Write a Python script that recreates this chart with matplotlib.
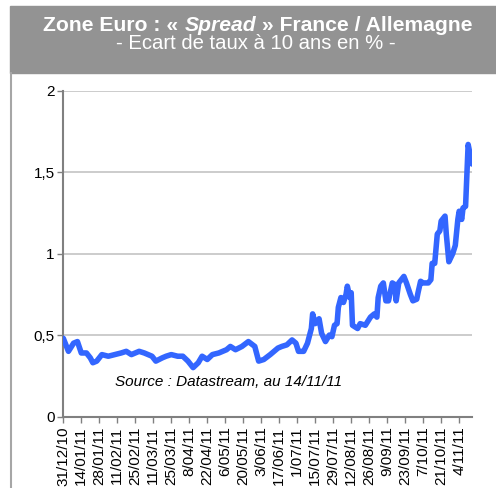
import matplotlib
matplotlib.use("Agg")
import matplotlib.pyplot as plt
import pandas as pd

plt.rcParams["font.family"] = ["Liberation Sans", "DejaVu Sans"]

START = pd.Timestamp("2010-12-31")
END = pd.Timestamp("2011-11-14")

# days after 31/12/10 and spread (points of %)
day_offsets = [
    0, 4, 8, 11, 14, 18, 21, 23, 26, 30, 35, 40, 45, 49, 53, 59, 63, 69, 72, 77,
    80, 84, 89, 93, 97, 101, 105, 108, 112, 116, 121, 127, 130, 134, 139, 144,
    149, 152, 156, 161, 167, 170, 174, 178, 181, 183, 187, 190, 193, 194, 196,
    199, 201, 204, 207, 209, 211, 213, 214, 216, 218, 220, 221, 223, 224, 225,
    229, 231, 235, 239, 242, 244, 245, 247, 249, 251, 253, 256, 258, 259, 261,
    265, 267, 270, 272, 275, 276, 278, 280, 284, 286, 287, 289, 291, 293, 294,
    297, 298, 300, 303, 305, 307, 308, 310, 311, 313, 315, 318,
]
spread = [
    0.48, 0.40, 0.45, 0.46, 0.39, 0.39, 0.36, 0.33, 0.34, 0.38, 0.37, 0.38,
    0.39, 0.40, 0.38, 0.40, 0.39, 0.37, 0.34, 0.36, 0.37, 0.38, 0.37, 0.37,
    0.34, 0.30, 0.33, 0.37, 0.35, 0.38, 0.39, 0.41, 0.43, 0.41, 0.43, 0.46,
    0.43, 0.34, 0.35, 0.38, 0.42, 0.43, 0.44, 0.47, 0.45, 0.40, 0.40, 0.45,
    0.54, 0.63, 0.57, 0.60, 0.51, 0.46, 0.50, 0.49, 0.56, 0.57, 0.67, 0.73,
    0.70, 0.75, 0.80, 0.73, 0.76, 0.56, 0.54, 0.57, 0.56, 0.61, 0.63, 0.61,
    0.73, 0.80, 0.82, 0.71, 0.71, 0.82, 0.81, 0.71, 0.82, 0.86, 0.82, 0.75,
    0.71, 0.72, 0.76, 0.83, 0.82, 0.82, 0.84, 0.94, 0.94, 1.12, 1.14, 1.20,
    1.23, 1.12, 0.95, 1.00, 1.05, 1.21, 1.26, 1.21, 1.28, 1.29, 1.67, 1.55,
]

y_ticks = [0, 0.5, 1, 1.5, 2]
y_labels = ["0", "0,5", "1", "1,5", "2"]

# title pieces: (text, style)
title_parts = [("Zone Euro : « ", "normal"), ("Spread", "italic"),
               (" » France / Allemagne", "normal")]
subtitle = "- Ecart de taux à 10 ans en % -"
source = "Source : Datastream, au 14/11/11"

dates = [START + pd.Timedelta(days=d) for d in day_offsets]
tick_dates = pd.date_range(START, END, freq="14D")

W, H = 496, 488
AX_L, AX_R, AX_T, AX_B = 63.3, 472, 90.7, 416.5  # axes box in pixels

fig = plt.figure(figsize=(W / 100, H / 100), dpi=100)

# grey header band and left frame line
fig.patches.append(plt.Rectangle((10 / W, 1 - 73 / H), 1, 67 / H,
                                 transform=fig.transFigure, color="#939393", zorder=0))
fig.lines.append(plt.Line2D([11 / W, 11 / W], [0, 1 - 73 / H],
                            transform=fig.transFigure, color="#a6a6a6", lw=1.5))

# title built from pieces so "Spread" can be bold italic
renderer = fig.canvas.get_renderer()
texts = []
for s, style in title_parts:
    texts.append(fig.text(0, 1 - 31 / H, s, color="white", fontsize=15.2,
                          fontweight="bold", style=style, va="baseline"))
widths = [t.get_window_extent(renderer).width for t in texts]
x = 258 - sum(widths) / 2
for t, w in zip(texts, widths):
    t.set_x(x / W)
    x += w

fig.text(256 / W, 1 - 49 / H, subtitle, color="white", fontsize=14.6,
         ha="center", va="baseline")

ax = fig.add_axes([AX_L / W, 1 - AX_B / H, (AX_R - AX_L) / W, (AX_B - AX_T) / H])
ax.plot(dates, spread, color="#3366ff", lw=4, solid_joinstyle="round",
        solid_capstyle="round", zorder=3)

ax.set_ylim(0, 2)
ax.set_xlim(START, END)
ax.set_yticks(y_ticks)
ax.set_yticklabels(y_labels)
ax.set_xticks(tick_dates)
ax.set_xticklabels([f"{d.day}/{d.month:02d}/{d.year % 100:02d}" for d in tick_dates],
                   rotation=90)
ax.tick_params(axis="both", labelsize=11, length=4.2, width=1, color="#808080",
               labelcolor="black")
ax.tick_params(axis="y", pad=2)
ax.tick_params(axis="x", pad=3)
for s in ["top", "right"]:
    ax.spines[s].set_visible(False)
for s in ["left", "bottom"]:
    ax.spines[s].set_color("#808080")
    ax.spines[s].set_linewidth(1.5)
for v in y_ticks[1:]:
    ax.axhline(v, color="#c4c4c4", lw=1.2, zorder=1)

ax.text((229 - AX_L) / (AX_R - AX_L), 0.106, source,
        transform=ax.transAxes, fontsize=11, style="italic", ha="center", va="center")

fig.savefig("out.png", dpi=100)
